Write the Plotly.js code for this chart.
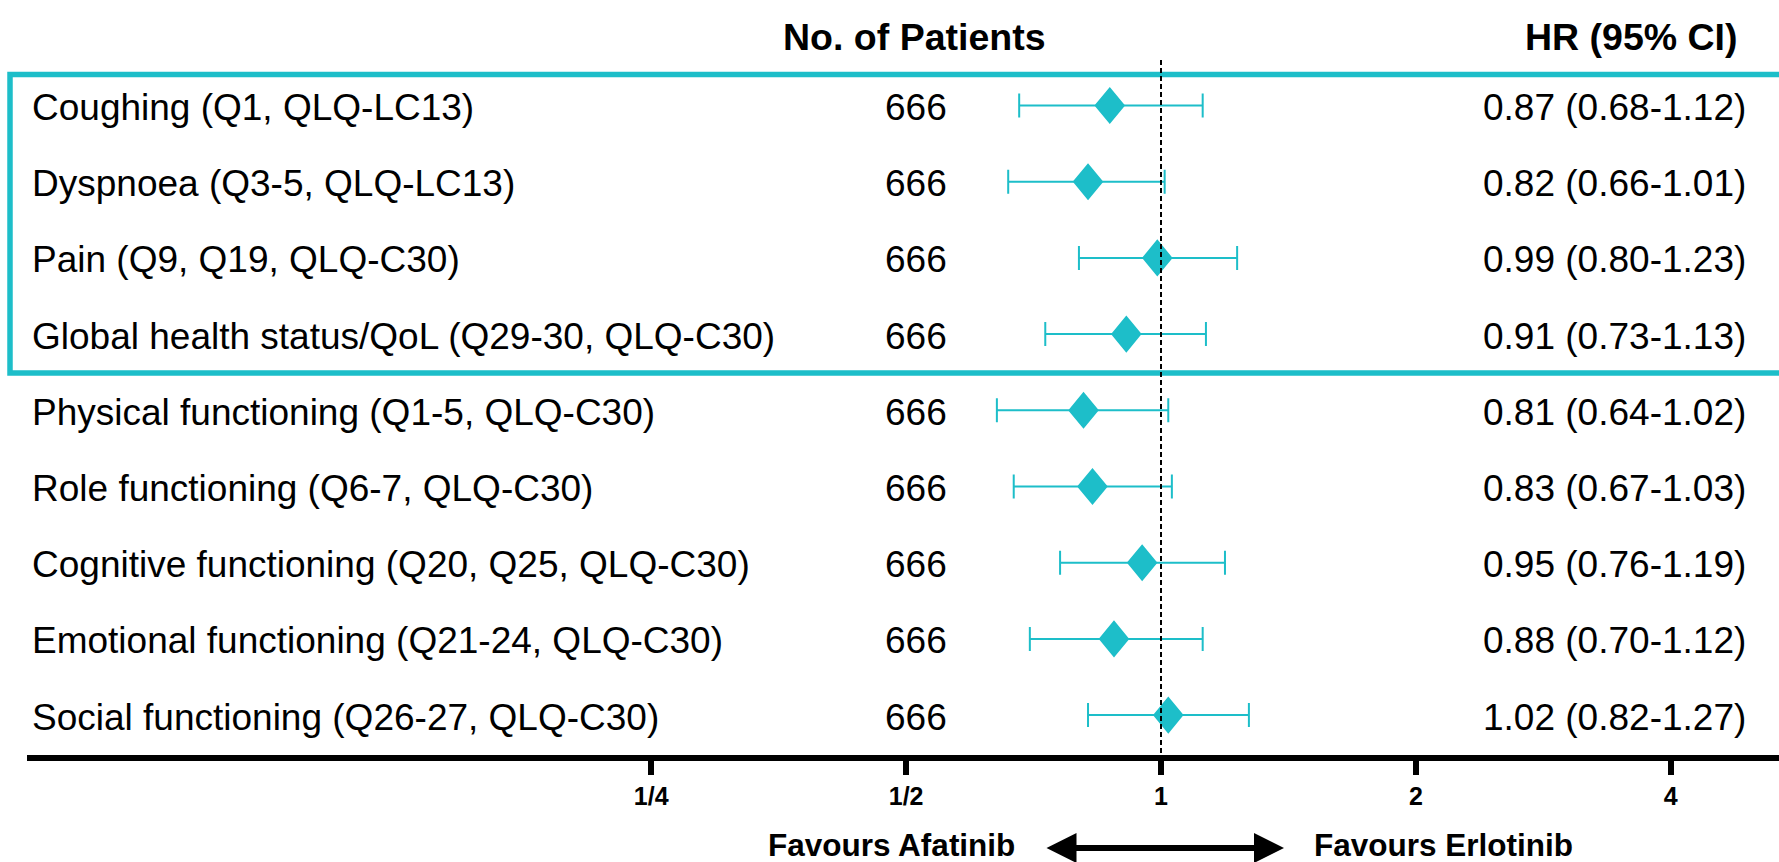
<!DOCTYPE html>
<html>
<head>
<meta charset="utf-8">
<script src="https://cdn.plot.ly/plotly-3.0.1.min.js"></script>
<style>html,body{margin:0;padding:0;background:#fff;}#chart{width:1779px;height:862px;}</style>
</head>
<body>
<div id="chart"></div>
<script>
// ---- data ----
var labels = [
  "Coughing (Q1, QLQ-LC13)",
  "Dyspnoea (Q3-5, QLQ-LC13)",
  "Pain (Q9, Q19, QLQ-C30)",
  "Global health status/QoL (Q29-30, QLQ-C30)",
  "Physical functioning (Q1-5, QLQ-C30)",
  "Role functioning (Q6-7, QLQ-C30)",
  "Cognitive functioning (Q20, Q25, QLQ-C30)",
  "Emotional functioning (Q21-24, QLQ-C30)",
  "Social functioning (Q26-27, QLQ-C30)"
];
var patients = [666, 666, 666, 666, 666, 666, 666, 666, 666];
var hr    = [0.87, 0.82, 0.99, 0.91, 0.81, 0.83, 0.95, 0.88, 1.02];
var ciLow = [0.68, 0.66, 0.80, 0.73, 0.64, 0.67, 0.76, 0.70, 0.82];
var ciHigh= [1.12, 1.01, 1.23, 1.13, 1.02, 1.03, 1.19, 1.12, 1.27];
var tickVals = [0.25, 0.5, 1, 2, 4];
var tickText = ["1/4", "1/2", "1", "2", "4"];
var headerPatients = "No. of Patients";
var headerHR = "HR (95% CI)";
var favoursLeft = "Favours Afatinib";
var favoursRight = "Favours Erlotinib";

// ---- style / layout geometry ----
var W = 1779, H = 862;
var ML = 27, MR = 0, MT = 0, MB = 107;
var plotW = W - ML - MR, plotH = H - MT - MB;
var teal = "#1DBEC9";
var font = "Liberation Sans, Arial, sans-serif";
var row0 = 105.5, rowStep = 76.2;     // pixel position of first row and spacing
var oneX = 1161, octave = 254.9;      // pixel of HR=1 and width of one doubling
var yTop = (0 - row0) / rowStep, yBot = (plotH - row0) / rowStep;
var xL = Math.log10(Math.pow(2, (ML - oneX) / octave));
var xR = Math.log10(Math.pow(2, (W - MR - oneX) / octave));
function px(xp) { return (xp - ML) / plotW; }
function py(yp) { return 1 - (yp - MT) / plotH; }

var rows = labels.map(function(_, i) { return i; });

// diamonds as filled polygons (half-width in octaves, half-height in rows)
var hw = 14 / octave, hh = 17 / rowStep;
var dx = [], dy = [];
hr.forEach(function(v, i) {
  var a = v * Math.pow(2, -hw), b = v * Math.pow(2, hw);
  dx.push(a, v, b, v, a, null);
  dy.push(i, i - hh, i, i + hh, i, null);
});

var traces = [
  {
    type: "scatter", mode: "markers", x: hr, y: rows,
    marker: {size: 1, color: "rgba(0,0,0,0)"},
    error_x: {
      type: "data", symmetric: false,
      array: hr.map(function(v, i) { return ciHigh[i] - v; }),
      arrayminus: hr.map(function(v, i) { return v - ciLow[i]; }),
      color: teal, thickness: 2, width: 12
    },
    hoverinfo: "skip", showlegend: false
  },
  {
    type: "scatter", mode: "lines", x: dx, y: dy, fill: "toself",
    fillcolor: teal, line: {color: teal, width: 2},
    connectgaps: false, hoverinfo: "skip", showlegend: false
  },
  {
    type: "scatter", mode: "lines", x: [1, 1], y: [(60 - row0) / rowStep, yBot],
    line: {color: "#000", width: 2, dash: "5px,3px"},
    hoverinfo: "skip", showlegend: false
  }
];

var ann = [];
labels.forEach(function(t, i) {
  ann.push({xref: "paper", yref: "y", x: px(30), y: i, yshift: -2, text: t,
    xanchor: "left", yanchor: "middle", showarrow: false,
    font: {family: font, size: 37, color: "#000"}});
  ann.push({xref: "paper", yref: "y", x: px(916), y: i, yshift: -2, text: String(patients[i]),
    xanchor: "center", yanchor: "middle", showarrow: false,
    font: {family: font, size: 37, color: "#000"}});
  ann.push({xref: "paper", yref: "y", x: px(1748), y: i, yshift: -2,
    text: hr[i].toFixed(2) + " (" + ciLow[i].toFixed(2) + "-" + ciHigh[i].toFixed(2) + ")",
    xanchor: "right", yanchor: "middle", showarrow: false,
    font: {family: font, size: 37, color: "#000"}});
});
ann.push({xref: "paper", yref: "paper", x: px(914), y: py(37), text: headerPatients,
  xanchor: "center", yanchor: "middle", showarrow: false,
  font: {family: font, size: 37.5, color: "#000", weight: 700}});
ann.push({xref: "paper", yref: "paper", x: px(1740), y: py(37), text: headerHR,
  xanchor: "right", yanchor: "middle", showarrow: false,
  font: {family: font, size: 37.5, color: "#000", weight: 700}});
ann.push({xref: "paper", yref: "paper", x: px(1017), y: py(845), text: favoursLeft,
  xanchor: "right", yanchor: "middle", showarrow: false, height: 30, valign: "middle",
  font: {family: font, size: 31.5, color: "#000", weight: 700}});
ann.push({xref: "paper", yref: "paper", x: px(1312), y: py(845), text: favoursRight,
  xanchor: "left", yanchor: "middle", showarrow: false, height: 30, valign: "middle",
  font: {family: font, size: 31.5, color: "#000", weight: 700}});
// double-headed arrow
ann.push({xref: "paper", yref: "paper", x: px(1284), y: py(848), ax: -(1284 - 1045), ay: 0,
  text: "", showarrow: true, arrowside: "end+start", arrowhead: 2, startarrowhead: 2,
  arrowsize: 1, startarrowsize: 1, arrowwidth: 6, arrowcolor: "#000", standoff: 0, startstandoff: 0});

var layout = {
  width: W, height: H,
  margin: {l: ML, r: MR, t: MT, b: MB, pad: 0},
  paper_bgcolor: "#fff", plot_bgcolor: "#fff",
  showlegend: false,
  xaxis: {
    type: "log", range: [xL, xR], autorange: false,
    tickvals: tickVals, ticktext: tickText,
    tickfont: {family: font, size: 25, color: "#000", weight: 700},
    ticks: "outside", ticklen: 14, tickwidth: 6, tickcolor: "#000",
    showline: true, linewidth: 6, linecolor: "#000",
    showgrid: false, zeroline: false, fixedrange: true
  },
  yaxis: {
    range: [yBot, yTop], autorange: false,
    showticklabels: false, showgrid: false, zeroline: false, showline: false, ticks: "",
    fixedrange: true
  },
  shapes: [
    {type: "rect", xref: "paper", yref: "paper", x0: px(10), x1: px(W + 20), y0: py(373), y1: py(74.5),
     line: {color: teal, width: 5.5}, fillcolor: "rgba(0,0,0,0)", layer: "below"}
  ],
  annotations: ann
};

Plotly.newPlot("chart", traces, layout, {displayModeBar: false, staticPlot: true});
</script>
</body>
</html>
